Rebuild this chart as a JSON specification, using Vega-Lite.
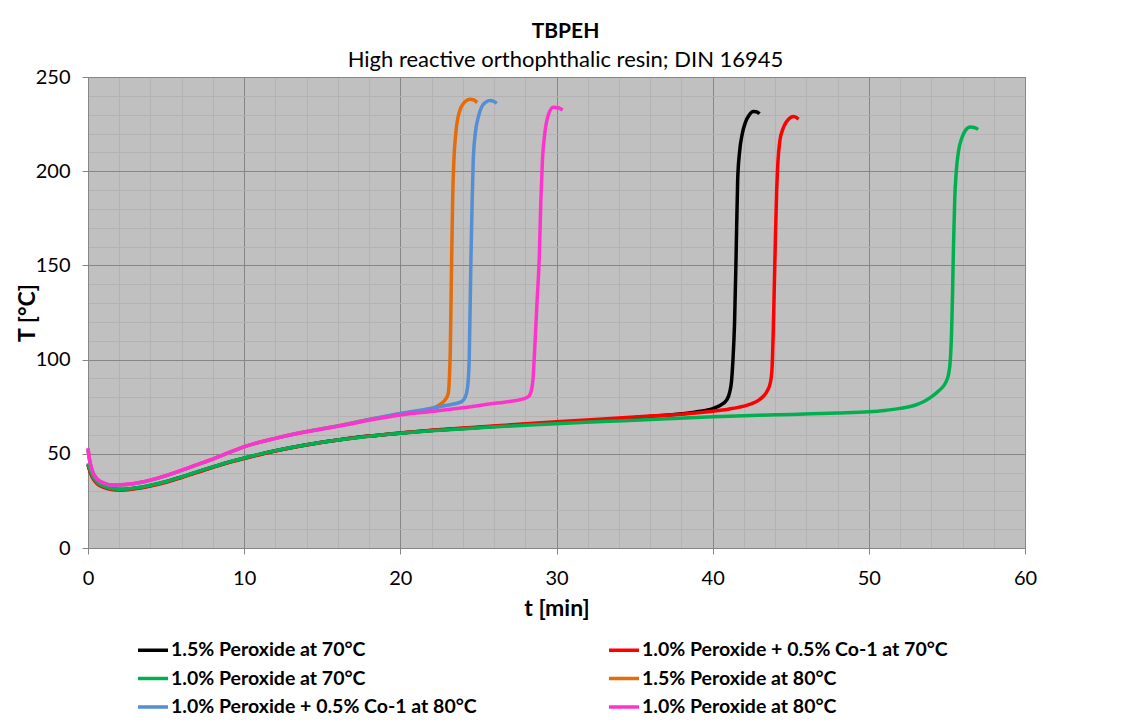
{
"$schema": "https://vega.github.io/schema/vega-lite/v6.json",
"width": 937, "height": 471,
"autosize": {"type": "none"},
"padding": {"left": 88, "top": 77, "right": 110, "bottom": 178},
"background": "white",
"title": {"text": "TBPEH", "subtitle": "High reactive orthophthalic resin; DIN 16945", "anchor": "middle", "dx": 9, "font": "Lato", "fontSize": 21, "fontWeight": "bold", "color": "#000", "subtitleFont": "Lato", "subtitleFontSize": 22, "subtitleColor": "#000", "subtitlePadding": 8, "offset": -4},
"config": {
  "font": "Lato",
  "view": {"fill": "#c0c0c0", "stroke": "#868686", "strokeWidth": 1},
  "axis": {"labelFont": "Lato", "labelFontSize": 20, "labelColor": "#000", "labelFlush": false, "titleFont": "Lato", "titleFontSize": 23, "titleFontWeight": "bold", "titleColor": "#000", "gridColor": "#868686", "gridOpacity": 1, "gridWidth": 1, "tickColor": "#868686", "domainColor": "#868686", "tickSize": 6}
},
"data": {"values": [
{"s":"1.5% Peroxide at 70°C","t":0,"T":44.5},{"s":"1.5% Peroxide at 70°C","t":0.15,"T":40.5},{"s":"1.5% Peroxide at 70°C","t":0.35,"T":37},{"s":"1.5% Peroxide at 70°C","t":0.6,"T":34.5},{"s":"1.5% Peroxide at 70°C","t":1,"T":32.6},{"s":"1.5% Peroxide at 70°C","t":1.5,"T":31.5},{"s":"1.5% Peroxide at 70°C","t":2,"T":31.1},{"s":"1.5% Peroxide at 70°C","t":2.5,"T":31.2},{"s":"1.5% Peroxide at 70°C","t":3,"T":31.7},{"s":"1.5% Peroxide at 70°C","t":4,"T":33.2},{"s":"1.5% Peroxide at 70°C","t":5,"T":35.2},{"s":"1.5% Peroxide at 70°C","t":6,"T":37.7},{"s":"1.5% Peroxide at 70°C","t":7,"T":40.4},{"s":"1.5% Peroxide at 70°C","t":8,"T":43},{"s":"1.5% Peroxide at 70°C","t":9,"T":45.5},{"s":"1.5% Peroxide at 70°C","t":10,"T":47.7},{"s":"1.5% Peroxide at 70°C","t":12,"T":51.6},{"s":"1.5% Peroxide at 70°C","t":14,"T":54.8},{"s":"1.5% Peroxide at 70°C","t":16,"T":57.3},{"s":"1.5% Peroxide at 70°C","t":18,"T":59.4},{"s":"1.5% Peroxide at 70°C","t":20,"T":61},{"s":"1.5% Peroxide at 70°C","t":22,"T":62.4},{"s":"1.5% Peroxide at 70°C","t":25,"T":64},{"s":"1.5% Peroxide at 70°C","t":28,"T":65.6},{"s":"1.5% Peroxide at 70°C","t":30,"T":66.6},{"s":"1.5% Peroxide at 70°C","t":33,"T":68},{"s":"1.5% Peroxide at 70°C","t":36,"T":69.8},{"s":"1.5% Peroxide at 70°C","t":38,"T":71.2},{"s":"1.5% Peroxide at 70°C","t":39,"T":72.3},{"s":"1.5% Peroxide at 70°C","t":40,"T":74},{"s":"1.5% Peroxide at 70°C","t":40.5,"T":75.8},{"s":"1.5% Peroxide at 70°C","t":40.9,"T":78.6},{"s":"1.5% Peroxide at 70°C","t":41.1,"T":83},{"s":"1.5% Peroxide at 70°C","t":41.2,"T":88},{"s":"1.5% Peroxide at 70°C","t":41.3,"T":100},{"s":"1.5% Peroxide at 70°C","t":41.4,"T":119},{"s":"1.5% Peroxide at 70°C","t":41.5,"T":155},{"s":"1.5% Peroxide at 70°C","t":41.6,"T":195},{"s":"1.5% Peroxide at 70°C","t":41.72,"T":210},{"s":"1.5% Peroxide at 70°C","t":41.9,"T":220},{"s":"1.5% Peroxide at 70°C","t":42.1,"T":226},{"s":"1.5% Peroxide at 70°C","t":42.35,"T":230},{"s":"1.5% Peroxide at 70°C","t":42.6,"T":231.7},{"s":"1.5% Peroxide at 70°C","t":42.8,"T":231.6},{"s":"1.5% Peroxide at 70°C","t":43,"T":230.5},
{"s":"1.0% Peroxide + 0.5% Co-1 at 70°C","t":0,"T":44},{"s":"1.0% Peroxide + 0.5% Co-1 at 70°C","t":0.15,"T":40},{"s":"1.0% Peroxide + 0.5% Co-1 at 70°C","t":0.35,"T":36.5},{"s":"1.0% Peroxide + 0.5% Co-1 at 70°C","t":0.6,"T":34},{"s":"1.0% Peroxide + 0.5% Co-1 at 70°C","t":1,"T":32.2},{"s":"1.0% Peroxide + 0.5% Co-1 at 70°C","t":1.5,"T":31.1},{"s":"1.0% Peroxide + 0.5% Co-1 at 70°C","t":2,"T":30.8},{"s":"1.0% Peroxide + 0.5% Co-1 at 70°C","t":2.5,"T":30.9},{"s":"1.0% Peroxide + 0.5% Co-1 at 70°C","t":3,"T":31.4},{"s":"1.0% Peroxide + 0.5% Co-1 at 70°C","t":4,"T":32.9},{"s":"1.0% Peroxide + 0.5% Co-1 at 70°C","t":5,"T":34.9},{"s":"1.0% Peroxide + 0.5% Co-1 at 70°C","t":6,"T":37.4},{"s":"1.0% Peroxide + 0.5% Co-1 at 70°C","t":7,"T":40.1},{"s":"1.0% Peroxide + 0.5% Co-1 at 70°C","t":8,"T":42.8},{"s":"1.0% Peroxide + 0.5% Co-1 at 70°C","t":9,"T":45.3},{"s":"1.0% Peroxide + 0.5% Co-1 at 70°C","t":10,"T":47.5},{"s":"1.0% Peroxide + 0.5% Co-1 at 70°C","t":12,"T":51.5},{"s":"1.0% Peroxide + 0.5% Co-1 at 70°C","t":14,"T":54.7},{"s":"1.0% Peroxide + 0.5% Co-1 at 70°C","t":16,"T":57.3},{"s":"1.0% Peroxide + 0.5% Co-1 at 70°C","t":18,"T":59.4},{"s":"1.0% Peroxide + 0.5% Co-1 at 70°C","t":20,"T":61.1},{"s":"1.0% Peroxide + 0.5% Co-1 at 70°C","t":22,"T":62.5},{"s":"1.0% Peroxide + 0.5% Co-1 at 70°C","t":25,"T":64.2},{"s":"1.0% Peroxide + 0.5% Co-1 at 70°C","t":28,"T":65.9},{"s":"1.0% Peroxide + 0.5% Co-1 at 70°C","t":30,"T":67},{"s":"1.0% Peroxide + 0.5% Co-1 at 70°C","t":33,"T":68.5},{"s":"1.0% Peroxide + 0.5% Co-1 at 70°C","t":36,"T":70},{"s":"1.0% Peroxide + 0.5% Co-1 at 70°C","t":38,"T":71},{"s":"1.0% Peroxide + 0.5% Co-1 at 70°C","t":40,"T":72.6},{"s":"1.0% Peroxide + 0.5% Co-1 at 70°C","t":41,"T":73.7},{"s":"1.0% Peroxide + 0.5% Co-1 at 70°C","t":42,"T":75.3},{"s":"1.0% Peroxide + 0.5% Co-1 at 70°C","t":42.5,"T":76.6},{"s":"1.0% Peroxide + 0.5% Co-1 at 70°C","t":43,"T":78.8},{"s":"1.0% Peroxide + 0.5% Co-1 at 70°C","t":43.3,"T":81},{"s":"1.0% Peroxide + 0.5% Co-1 at 70°C","t":43.5,"T":83.5},{"s":"1.0% Peroxide + 0.5% Co-1 at 70°C","t":43.7,"T":88},{"s":"1.0% Peroxide + 0.5% Co-1 at 70°C","t":43.8,"T":95},{"s":"1.0% Peroxide + 0.5% Co-1 at 70°C","t":43.88,"T":115},{"s":"1.0% Peroxide + 0.5% Co-1 at 70°C","t":43.95,"T":140},{"s":"1.0% Peroxide + 0.5% Co-1 at 70°C","t":44.02,"T":165},{"s":"1.0% Peroxide + 0.5% Co-1 at 70°C","t":44.1,"T":190},{"s":"1.0% Peroxide + 0.5% Co-1 at 70°C","t":44.18,"T":205},{"s":"1.0% Peroxide + 0.5% Co-1 at 70°C","t":44.3,"T":216},{"s":"1.0% Peroxide + 0.5% Co-1 at 70°C","t":44.5,"T":222.5},{"s":"1.0% Peroxide + 0.5% Co-1 at 70°C","t":44.75,"T":226.5},{"s":"1.0% Peroxide + 0.5% Co-1 at 70°C","t":45,"T":228.6},{"s":"1.0% Peroxide + 0.5% Co-1 at 70°C","t":45.2,"T":229},{"s":"1.0% Peroxide + 0.5% Co-1 at 70°C","t":45.5,"T":227.7},
{"s":"1.0% Peroxide at 70°C","t":0,"T":45},{"s":"1.0% Peroxide at 70°C","t":0.15,"T":41},{"s":"1.0% Peroxide at 70°C","t":0.35,"T":37.5},{"s":"1.0% Peroxide at 70°C","t":0.6,"T":34.8},{"s":"1.0% Peroxide at 70°C","t":1,"T":32.8},{"s":"1.0% Peroxide at 70°C","t":1.5,"T":31.6},{"s":"1.0% Peroxide at 70°C","t":2,"T":31.2},{"s":"1.0% Peroxide at 70°C","t":2.5,"T":31.3},{"s":"1.0% Peroxide at 70°C","t":3,"T":31.8},{"s":"1.0% Peroxide at 70°C","t":4,"T":33.3},{"s":"1.0% Peroxide at 70°C","t":5,"T":35.3},{"s":"1.0% Peroxide at 70°C","t":6,"T":37.8},{"s":"1.0% Peroxide at 70°C","t":7,"T":40.5},{"s":"1.0% Peroxide at 70°C","t":8,"T":43.1},{"s":"1.0% Peroxide at 70°C","t":9,"T":45.6},{"s":"1.0% Peroxide at 70°C","t":10,"T":47.8},{"s":"1.0% Peroxide at 70°C","t":12,"T":51.7},{"s":"1.0% Peroxide at 70°C","t":14,"T":54.8},{"s":"1.0% Peroxide at 70°C","t":16,"T":57.3},{"s":"1.0% Peroxide at 70°C","t":18,"T":59.3},{"s":"1.0% Peroxide at 70°C","t":20,"T":60.9},{"s":"1.0% Peroxide at 70°C","t":22,"T":62.2},{"s":"1.0% Peroxide at 70°C","t":25,"T":63.8},{"s":"1.0% Peroxide at 70°C","t":28,"T":65.2},{"s":"1.0% Peroxide at 70°C","t":30,"T":66},{"s":"1.0% Peroxide at 70°C","t":33,"T":67.1},{"s":"1.0% Peroxide at 70°C","t":36,"T":68.2},{"s":"1.0% Peroxide at 70°C","t":40,"T":69.7},{"s":"1.0% Peroxide at 70°C","t":44,"T":70.7},{"s":"1.0% Peroxide at 70°C","t":48,"T":71.6},{"s":"1.0% Peroxide at 70°C","t":50,"T":72.3},{"s":"1.0% Peroxide at 70°C","t":51,"T":73},{"s":"1.0% Peroxide at 70°C","t":52,"T":74.1},{"s":"1.0% Peroxide at 70°C","t":53,"T":75.9},{"s":"1.0% Peroxide at 70°C","t":53.5,"T":77.6},{"s":"1.0% Peroxide at 70°C","t":54,"T":80.2},{"s":"1.0% Peroxide at 70°C","t":54.5,"T":83.6},{"s":"1.0% Peroxide at 70°C","t":54.9,"T":87.5},{"s":"1.0% Peroxide at 70°C","t":55.1,"T":92},{"s":"1.0% Peroxide at 70°C","t":55.22,"T":100},{"s":"1.0% Peroxide at 70°C","t":55.3,"T":115},{"s":"1.0% Peroxide at 70°C","t":55.36,"T":135},{"s":"1.0% Peroxide at 70°C","t":55.42,"T":160},{"s":"1.0% Peroxide at 70°C","t":55.5,"T":185},{"s":"1.0% Peroxide at 70°C","t":55.6,"T":200},{"s":"1.0% Peroxide at 70°C","t":55.75,"T":211},{"s":"1.0% Peroxide at 70°C","t":55.95,"T":217.5},{"s":"1.0% Peroxide at 70°C","t":56.2,"T":221.8},{"s":"1.0% Peroxide at 70°C","t":56.5,"T":223.4},{"s":"1.0% Peroxide at 70°C","t":56.75,"T":223.2},{"s":"1.0% Peroxide at 70°C","t":57,"T":222.2},
{"s":"1.5% Peroxide at 80°C","t":0,"T":52},{"s":"1.5% Peroxide at 80°C","t":0.12,"T":45.5},{"s":"1.5% Peroxide at 80°C","t":0.3,"T":40.3},{"s":"1.5% Peroxide at 80°C","t":0.6,"T":36.4},{"s":"1.5% Peroxide at 80°C","t":1,"T":34.4},{"s":"1.5% Peroxide at 80°C","t":1.6,"T":33.3},{"s":"1.5% Peroxide at 80°C","t":2.5,"T":33.7},{"s":"1.5% Peroxide at 80°C","t":3.5,"T":35},{"s":"1.5% Peroxide at 80°C","t":4.5,"T":37.1},{"s":"1.5% Peroxide at 80°C","t":6,"T":41.2},{"s":"1.5% Peroxide at 80°C","t":7,"T":44.2},{"s":"1.5% Peroxide at 80°C","t":8,"T":47.2},{"s":"1.5% Peroxide at 80°C","t":9,"T":50.5},{"s":"1.5% Peroxide at 80°C","t":10,"T":53.7},{"s":"1.5% Peroxide at 80°C","t":12,"T":58.2},{"s":"1.5% Peroxide at 80°C","t":14,"T":61.8},{"s":"1.5% Peroxide at 80°C","t":16,"T":64.8},{"s":"1.5% Peroxide at 80°C","t":18,"T":68.2},{"s":"1.5% Peroxide at 80°C","t":20,"T":71.3},{"s":"1.5% Peroxide at 80°C","t":22,"T":74},{"s":"1.5% Peroxide at 80°C","t":22.64,"T":76.8},{"s":"1.5% Peroxide at 80°C","t":22.9,"T":79},{"s":"1.5% Peroxide at 80°C","t":23.07,"T":82},{"s":"1.5% Peroxide at 80°C","t":23.15,"T":92},{"s":"1.5% Peroxide at 80°C","t":23.2,"T":105},{"s":"1.5% Peroxide at 80°C","t":23.28,"T":150},{"s":"1.5% Peroxide at 80°C","t":23.35,"T":185},{"s":"1.5% Peroxide at 80°C","t":23.43,"T":206},{"s":"1.5% Peroxide at 80°C","t":23.55,"T":220},{"s":"1.5% Peroxide at 80°C","t":23.8,"T":232},{"s":"1.5% Peroxide at 80°C","t":24.1,"T":236.5},{"s":"1.5% Peroxide at 80°C","t":24.46,"T":238.2},{"s":"1.5% Peroxide at 80°C","t":24.7,"T":237.8},{"s":"1.5% Peroxide at 80°C","t":24.92,"T":236.4},
{"s":"1.0% Peroxide + 0.5% Co-1 at 80°C","t":0,"T":52.5},{"s":"1.0% Peroxide + 0.5% Co-1 at 80°C","t":0.12,"T":45.8},{"s":"1.0% Peroxide + 0.5% Co-1 at 80°C","t":0.3,"T":40.4},{"s":"1.0% Peroxide + 0.5% Co-1 at 80°C","t":0.6,"T":36.4},{"s":"1.0% Peroxide + 0.5% Co-1 at 80°C","t":1,"T":34.4},{"s":"1.0% Peroxide + 0.5% Co-1 at 80°C","t":1.6,"T":33.3},{"s":"1.0% Peroxide + 0.5% Co-1 at 80°C","t":2.5,"T":33.7},{"s":"1.0% Peroxide + 0.5% Co-1 at 80°C","t":3.5,"T":35},{"s":"1.0% Peroxide + 0.5% Co-1 at 80°C","t":4.5,"T":37.1},{"s":"1.0% Peroxide + 0.5% Co-1 at 80°C","t":6,"T":41.2},{"s":"1.0% Peroxide + 0.5% Co-1 at 80°C","t":7,"T":44.2},{"s":"1.0% Peroxide + 0.5% Co-1 at 80°C","t":8,"T":47.2},{"s":"1.0% Peroxide + 0.5% Co-1 at 80°C","t":9,"T":50.5},{"s":"1.0% Peroxide + 0.5% Co-1 at 80°C","t":10,"T":53.7},{"s":"1.0% Peroxide + 0.5% Co-1 at 80°C","t":12,"T":58.2},{"s":"1.0% Peroxide + 0.5% Co-1 at 80°C","t":14,"T":61.8},{"s":"1.0% Peroxide + 0.5% Co-1 at 80°C","t":16,"T":64.8},{"s":"1.0% Peroxide + 0.5% Co-1 at 80°C","t":18,"T":68.2},{"s":"1.0% Peroxide + 0.5% Co-1 at 80°C","t":20,"T":71.4},{"s":"1.0% Peroxide + 0.5% Co-1 at 80°C","t":22,"T":74.2},{"s":"1.0% Peroxide + 0.5% Co-1 at 80°C","t":23,"T":75.8},{"s":"1.0% Peroxide + 0.5% Co-1 at 80°C","t":23.9,"T":77.6},{"s":"1.0% Peroxide + 0.5% Co-1 at 80°C","t":24.15,"T":80},{"s":"1.0% Peroxide + 0.5% Co-1 at 80°C","t":24.3,"T":85},{"s":"1.0% Peroxide + 0.5% Co-1 at 80°C","t":24.41,"T":100},{"s":"1.0% Peroxide + 0.5% Co-1 at 80°C","t":24.52,"T":153},{"s":"1.0% Peroxide + 0.5% Co-1 at 80°C","t":24.6,"T":185},{"s":"1.0% Peroxide + 0.5% Co-1 at 80°C","t":24.67,"T":206},{"s":"1.0% Peroxide + 0.5% Co-1 at 80°C","t":24.8,"T":220},{"s":"1.0% Peroxide + 0.5% Co-1 at 80°C","t":25,"T":229},{"s":"1.0% Peroxide + 0.5% Co-1 at 80°C","t":25.2,"T":234},{"s":"1.0% Peroxide + 0.5% Co-1 at 80°C","t":25.5,"T":236.8},{"s":"1.0% Peroxide + 0.5% Co-1 at 80°C","t":25.74,"T":237.5},{"s":"1.0% Peroxide + 0.5% Co-1 at 80°C","t":26,"T":237},{"s":"1.0% Peroxide + 0.5% Co-1 at 80°C","t":26.17,"T":236},
{"s":"1.0% Peroxide at 80°C","t":0,"T":53},{"s":"1.0% Peroxide at 80°C","t":0.12,"T":46},{"s":"1.0% Peroxide at 80°C","t":0.3,"T":40.5},{"s":"1.0% Peroxide at 80°C","t":0.6,"T":36.5},{"s":"1.0% Peroxide at 80°C","t":1,"T":34.5},{"s":"1.0% Peroxide at 80°C","t":1.6,"T":33.4},{"s":"1.0% Peroxide at 80°C","t":2.5,"T":33.8},{"s":"1.0% Peroxide at 80°C","t":3.5,"T":35.1},{"s":"1.0% Peroxide at 80°C","t":4.5,"T":37.2},{"s":"1.0% Peroxide at 80°C","t":6,"T":41.3},{"s":"1.0% Peroxide at 80°C","t":7,"T":44.3},{"s":"1.0% Peroxide at 80°C","t":8,"T":47.3},{"s":"1.0% Peroxide at 80°C","t":9,"T":50.6},{"s":"1.0% Peroxide at 80°C","t":10,"T":53.8},{"s":"1.0% Peroxide at 80°C","t":12,"T":58.2},{"s":"1.0% Peroxide at 80°C","t":14,"T":61.7},{"s":"1.0% Peroxide at 80°C","t":16,"T":64.6},{"s":"1.0% Peroxide at 80°C","t":18,"T":67.8},{"s":"1.0% Peroxide at 80°C","t":20,"T":70.6},{"s":"1.0% Peroxide at 80°C","t":22,"T":72.5},{"s":"1.0% Peroxide at 80°C","t":24,"T":74.4},{"s":"1.0% Peroxide at 80°C","t":25.7,"T":76.4},{"s":"1.0% Peroxide at 80°C","t":27,"T":77.8},{"s":"1.0% Peroxide at 80°C","t":27.8,"T":79},{"s":"1.0% Peroxide at 80°C","t":28.2,"T":80.3},{"s":"1.0% Peroxide at 80°C","t":28.4,"T":84},{"s":"1.0% Peroxide at 80°C","t":28.5,"T":90},{"s":"1.0% Peroxide at 80°C","t":28.57,"T":100},{"s":"1.0% Peroxide at 80°C","t":28.75,"T":130},{"s":"1.0% Peroxide at 80°C","t":28.9,"T":155},{"s":"1.0% Peroxide at 80°C","t":29,"T":185},{"s":"1.0% Peroxide at 80°C","t":29.1,"T":206},{"s":"1.0% Peroxide at 80°C","t":29.25,"T":220},{"s":"1.0% Peroxide at 80°C","t":29.5,"T":230.5},{"s":"1.0% Peroxide at 80°C","t":29.8,"T":234},{"s":"1.0% Peroxide at 80°C","t":30.1,"T":233.7},{"s":"1.0% Peroxide at 80°C","t":30.4,"T":232.5}
]},
"layer": [
  {
    "mark": {"type": "point", "opacity": 0},
    "encoding": {
      "x": {"field": "t", "type": "quantitative", "scale": {"domain": [0, 60], "nice": false}, "axis": {"orient": "bottom", "values": [2,4,6,8,12,14,16,18,22,24,26,28,32,34,36,38,42,44,46,48,52,54,56,58], "grid": true, "gridColor": "#b3b3b3", "labels": false, "ticks": false, "domain": false, "title": null}},
      "y": {"field": "T", "type": "quantitative", "scale": {"domain": [0, 250], "nice": false}, "axis": {"orient": "left", "values": [10,20,30,40,60,70,80,90,110,120,130,140,160,170,180,190,210,220,230,240], "grid": true, "gridColor": "#b3b3b3", "labels": false, "ticks": false, "domain": false, "title": null}}
    }
  },
  {
    "mark": {"type": "line", "strokeWidth": 3.5, "interpolate": "monotone"},
    "encoding": {
      "x": {"field": "t", "type": "quantitative", "axis": {"orient": "bottom", "values": [0,10,20,30,40,50,60], "grid": true, "title": "t [min]", "labelPadding": 14, "titlePadding": 9}},
      "y": {"field": "T", "type": "quantitative", "axis": {"orient": "left", "values": [0,50,100,150,200,250], "grid": true, "title": "T [°C]", "labelPadding": 12, "titlePadding": -4}},
      "color": {"field": "s", "type": "nominal", "sort": null,
        "scale": {"domain": ["1.5% Peroxide at 70°C", "1.0% Peroxide + 0.5% Co-1 at 70°C", "1.0% Peroxide at 70°C", "1.5% Peroxide at 80°C", "1.0% Peroxide + 0.5% Co-1 at 80°C", "1.0% Peroxide at 80°C"], "range": ["#000000", "#ff0000", "#00b050", "#e46c0a", "#558ed5", "#ff33cc"]},
        "legend": {"title": null, "orient": "none", "legendX": 48, "legendY": 556, "direction": "horizontal", "columns": 2, "symbolType": "stroke", "symbolSize": 900, "symbolStrokeWidth": 3.5, "labelFont": "Lato", "labelFontSize": 19.5, "labelFontWeight": "bold", "labelColor": "#000", "labelLimit": 500, "columnPadding": 125, "rowPadding": 1.5, "labelOffset": 1}}
    }
  }
],
"resolve": {"axis": {"x": "independent", "y": "independent"}}
}
